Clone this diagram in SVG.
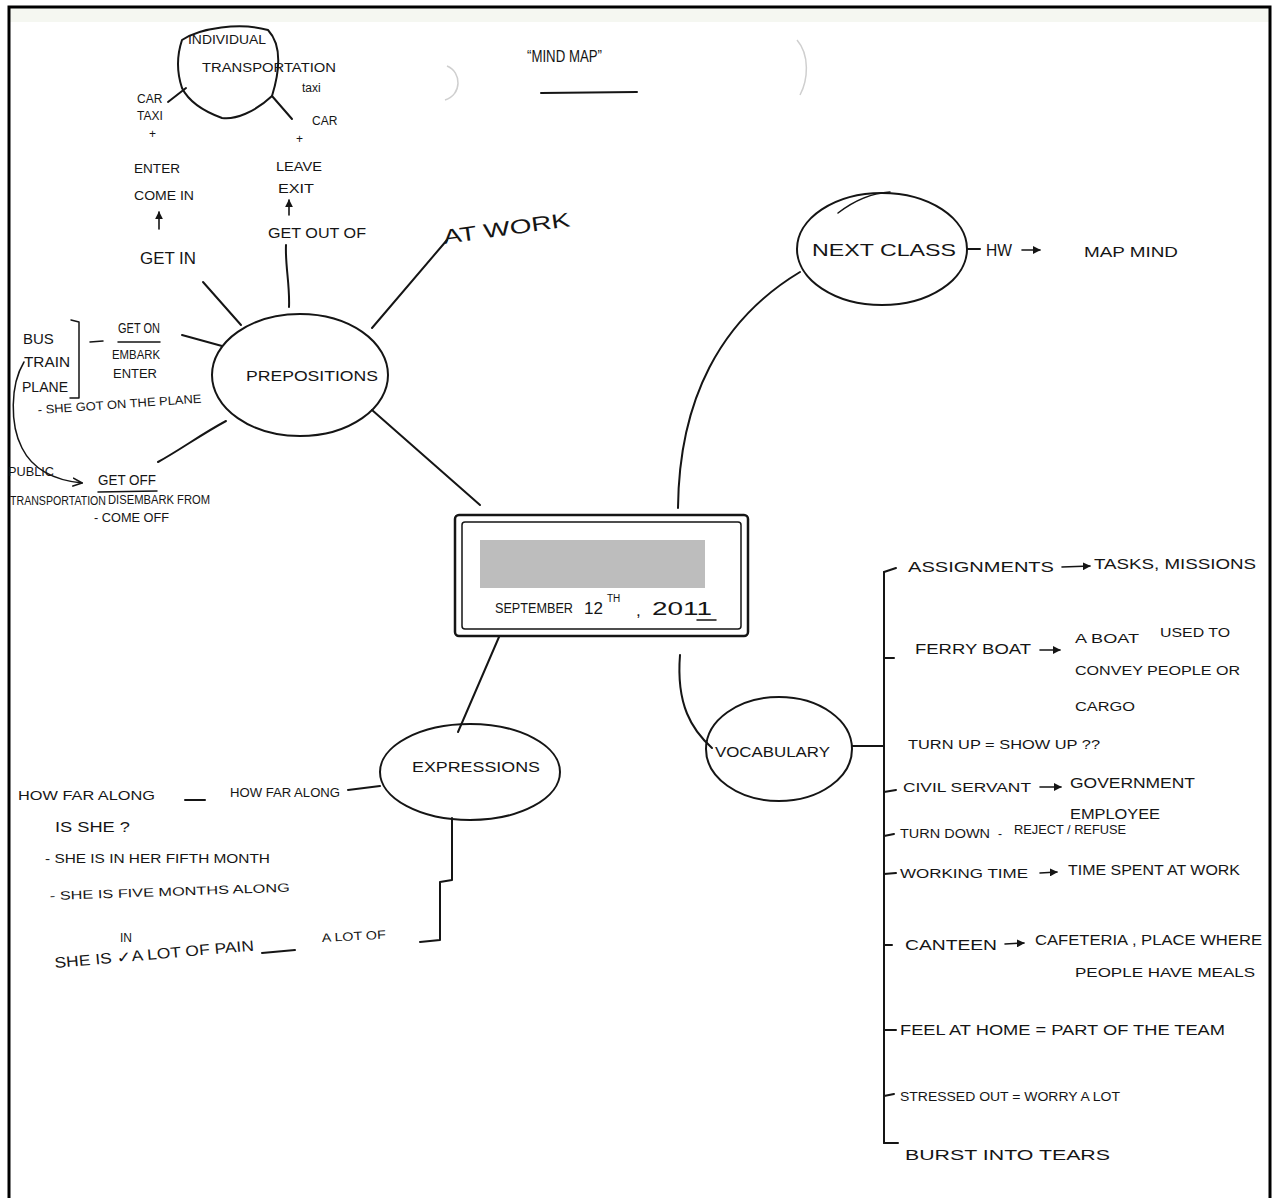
<svg xmlns="http://www.w3.org/2000/svg" width="1277" height="1198" viewBox="0 0 1277 1198">
<defs>
<style>
.t{font-family:"Liberation Sans",Arial,sans-serif;fill:#151515;font-size:15px}
.s{font-size:12px}
.m{font-size:17px}
.b{font-size:20px}
.x{font-size:10px}
.d{font-size:19px}
.sp{font-size:14px}
.l{fill:none;stroke:#151515;stroke-width:2;stroke-linecap:round;stroke-linejoin:round}
.th{stroke-width:1.5}
.ar{fill:none;stroke:#151515;stroke-width:1.6;stroke-linecap:round}
.faint{fill:none;stroke:#cfcfcf;stroke-width:1.5}
</style>
<marker id="ah" viewBox="0 0 10 10" refX="9" refY="5" markerWidth="7" markerHeight="7" orient="auto">
<path d="M0,1 L9,5 L0,9" fill="none" stroke="#151515" stroke-width="1.6"/>
</marker>
<marker id="af" viewBox="0 0 10 10" refX="9" refY="5" markerWidth="5" markerHeight="5" orient="auto">
<path d="M0,0 L10,5 L0,10 Z" fill="#151515"/>
</marker>
</defs>
<rect width="1277" height="1198" fill="#fff"/>
<rect x="10" y="8" width="1259" height="14" fill="#f5f7f1"/>
<path d="M9,1198 L9,7 L1270,7 L1270,1198" fill="none" stroke="#000" stroke-width="3"/>
<path class="faint" d="M447,66 C462,72 462,95 445,100"/>
<path class="faint" d="M797,40 C810,55 808,80 800,95"/>

<g id="title">
<text class="t m" x="527" y="62" textLength="75" lengthAdjust="spacingAndGlyphs">“MIND MAP”</text>
<path class="l" d="M541,93 L637,92"/>
</g>

<g id="connectors">
<path class="l" d="M372,410 L480,505"/>
<path class="l" d="M678,508 C679,400 720,320 800,272"/>
<path class="l" d="M680,655 C676,705 692,730 712,748"/>
<path class="l" d="M502,630 L458,732"/>
<path class="l" d="M372,328 L447,240"/>
<path class="l" d="M289,307 C290,285 285,265 286,245"/>
<path class="l" d="M241,325 L203,282"/>
<path class="l" d="M222,346 L182,335"/>
<path class="l" d="M226,421 C200,435 180,450 158,462"/>
<path class="l" d="M186,88 L168,102"/>
<path class="l" d="M272,96 L292,119"/>
<path class="l" d="M967,249 L980,249"/>
<path class="l" d="M852,746 L884,746"/>
<path class="l" d="M884,572 L884,1143"/>
<path class="l" d="M884,572 L896,568"/>
<path class="l" d="M884,658 L894,658"/>
<path class="l" d="M884,792 L896,790"/>
<path class="l" d="M884,836 L894,834"/>
<path class="l" d="M884,874 L896,873"/>
<path class="l" d="M884,945 L892,945"/>
<path class="l" d="M884,1030 L896,1030"/>
<path class="l" d="M884,1096 L894,1094"/>
<path class="l" d="M884,1143 L898,1143"/>
<path class="l" d="M380,786 L348,790"/>
<path class="l" d="M452,818 L452,880 L440,882 L440,940 L420,942"/>
<path class="l th" d="M24,362 C10,385 10,425 22,448 C32,468 52,480 82,483" marker-end="url(#ah)"/>
</g>

<g id="center-node">
<rect x="455" y="515" width="293" height="121" rx="4" fill="#fff" stroke="#151515" stroke-width="2.5"/>
<rect x="462" y="522" width="279" height="107" rx="3" fill="none" stroke="#151515" stroke-width="1.5"/>
<rect x="480" y="540" width="225" height="48" fill="#bdbdbd"/>
<text class="t sp" x="495" y="613" textLength="78" lengthAdjust="spacingAndGlyphs">SEPTEMBER</text>
<text class="t m" x="584" y="614">12</text>
<text class="t x" x="607" y="602">TH</text>
<text class="t m" x="636" y="616">,</text>
<text class="t d" x="652" y="615" textLength="60" lengthAdjust="spacingAndGlyphs">2011</text>
<path class="l th" d="M697,620 L716,620"/>
</g>

<g id="prepositions">
<ellipse cx="300" cy="375" rx="88" ry="61" fill="none" stroke="#151515" stroke-width="2"/>
<text class="t" x="246" y="381" textLength="132" lengthAdjust="spacingAndGlyphs">PREPOSITIONS</text>
</g>

<g id="individual-transportation">
<path class="l" d="M182,40 C200,28 240,22 268,30 C282,45 280,70 272,96 C255,112 235,120 222,118 C200,110 188,100 182,88 C176,70 178,52 182,40 Z"/>
<text class="t s" x="188" y="44" textLength="78" lengthAdjust="spacingAndGlyphs">INDIVIDUAL</text>
<text class="t s" x="202" y="72" textLength="134" lengthAdjust="spacingAndGlyphs">TRANSPORTATION</text>
</g>

<g id="get-in">
<text class="t s" x="137" y="103">CAR</text>
<text class="t s" x="137" y="120">TAXI</text>
<text class="t s" x="149" y="138">+</text>
<text class="t s" x="134" y="173" textLength="46" lengthAdjust="spacingAndGlyphs">ENTER</text>
<text class="t s" x="134" y="200" textLength="60" lengthAdjust="spacingAndGlyphs">COME IN</text>
<path class="ar" d="M159,229 L159,212" marker-end="url(#af)"/>
<text class="t m" x="140" y="264" textLength="56" lengthAdjust="spacingAndGlyphs">GET IN</text>
</g>

<g id="get-out-of">
<text class="t s" x="302" y="92">taxi</text>
<text class="t s" x="312" y="125">CAR</text>
<text class="t s" x="296" y="143">+</text>
<text class="t s" x="276" y="171" textLength="46" lengthAdjust="spacingAndGlyphs">LEAVE</text>
<text class="t s" x="278" y="193" textLength="36" lengthAdjust="spacingAndGlyphs">EXIT</text>
<path class="ar" d="M289,215 L289,200" marker-end="url(#af)"/>
<text class="t" x="268" y="238" textLength="98" lengthAdjust="spacingAndGlyphs">GET OUT OF</text>
</g>

<g id="at-work">
<text class="t b" x="444" y="244" transform="rotate(-8 444 244)" textLength="128" lengthAdjust="spacingAndGlyphs">AT WORK</text>
</g>

<g id="get-on">
<text class="t" x="23" y="344">BUS</text>
<text class="t" x="24" y="367" textLength="46" lengthAdjust="spacingAndGlyphs">TRAIN</text>
<text class="t" x="22" y="392" textLength="46" lengthAdjust="spacingAndGlyphs">PLANE</text>
<path class="l th" d="M71,320 L79,322 L79,398 L70,398"/>
<path class="l th" d="M90,342 L103,341"/>
<text class="t" x="118" y="333" textLength="42" lengthAdjust="spacingAndGlyphs">GET ON</text>
<path class="l th" d="M118,342 L160,342"/>
<text class="t s" x="112" y="359" textLength="48" lengthAdjust="spacingAndGlyphs">EMBARK</text>
<text class="t s" x="113" y="378" textLength="44" lengthAdjust="spacingAndGlyphs">ENTER</text>
<text class="t s" x="38" y="414" transform="rotate(-4 38 414)" textLength="164" lengthAdjust="spacingAndGlyphs">- SHE GOT ON THE PLANE</text>
</g>

<g id="get-off">
<text class="t s" x="8" y="476" textLength="46" lengthAdjust="spacingAndGlyphs">PUBLIC</text>
<text class="t" x="98" y="485" textLength="58" lengthAdjust="spacingAndGlyphs">GET OFF</text>
<path class="l th" d="M98,492 L157,491"/>
<text class="t s" x="10" y="505" textLength="96" lengthAdjust="spacingAndGlyphs">TRANSPORTATION</text>
<text class="t s" x="108" y="504" textLength="102" lengthAdjust="spacingAndGlyphs">DISEMBARK FROM</text>
<text class="t s" x="94" y="522" textLength="75" lengthAdjust="spacingAndGlyphs">- COME OFF</text>
</g>

<g id="next-class">
<ellipse cx="882" cy="249" rx="85" ry="56" fill="none" stroke="#151515" stroke-width="2"/>
<path class="l th" d="M838,213 C855,200 872,193 890,192"/>
<text class="t m" x="812" y="256" textLength="144" lengthAdjust="spacingAndGlyphs">NEXT CLASS</text>
</g>
<g id="homework">
<text class="t m" x="986" y="256" textLength="26" lengthAdjust="spacingAndGlyphs">HW</text>
<path class="ar" d="M1022,250 L1040,250" marker-end="url(#af)"/>
<text class="t" x="1084" y="257" textLength="94" lengthAdjust="spacingAndGlyphs">MAP MIND</text>
</g>

<g id="vocabulary">
<ellipse cx="779" cy="749" rx="73" ry="52" fill="none" stroke="#151515" stroke-width="2"/>
<text class="t" x="715" y="757" textLength="115" lengthAdjust="spacingAndGlyphs">VOCABULARY</text>
</g>
<g id="vocab-items">
<text class="t" x="908" y="572" textLength="146" lengthAdjust="spacingAndGlyphs">ASSIGNMENTS</text>
<path class="ar" d="M1062,567 L1090,566" marker-end="url(#af)"/>
<text class="t" x="1094" y="569" textLength="162" lengthAdjust="spacingAndGlyphs">TASKS, MISSIONS</text>
<text class="t" x="915" y="654" textLength="116" lengthAdjust="spacingAndGlyphs">FERRY BOAT</text>
<path class="ar" d="M1040,650 L1060,650" marker-end="url(#af)"/>
<text class="t s" x="1075" y="643" textLength="64" lengthAdjust="spacingAndGlyphs">A BOAT</text>
<text class="t s" x="1160" y="637" textLength="70" lengthAdjust="spacingAndGlyphs">USED TO</text>
<text class="t s" x="1075" y="675" textLength="165" lengthAdjust="spacingAndGlyphs">CONVEY PEOPLE OR</text>
<text class="t s" x="1075" y="711" textLength="60" lengthAdjust="spacingAndGlyphs">CARGO</text>
<text class="t s" x="908" y="749" textLength="192" lengthAdjust="spacingAndGlyphs">TURN UP = SHOW UP ??</text>
<text class="t s" x="903" y="792" textLength="128" lengthAdjust="spacingAndGlyphs">CIVIL SERVANT</text>
<path class="ar" d="M1040,787 L1061,787" marker-end="url(#af)"/>
<text class="t" x="1070" y="788" textLength="125" lengthAdjust="spacingAndGlyphs">GOVERNMENT</text>
<text class="t" x="1070" y="819" textLength="90" lengthAdjust="spacingAndGlyphs">EMPLOYEE</text>
<text class="t s" x="900" y="838" textLength="90" lengthAdjust="spacingAndGlyphs">TURN DOWN</text>
<text class="t s" x="998" y="838">-</text>
<text class="t s" x="1014" y="834" textLength="112" lengthAdjust="spacingAndGlyphs">REJECT / REFUSE</text>
<text class="t s" x="900" y="878" textLength="128" lengthAdjust="spacingAndGlyphs">WORKING TIME</text>
<path class="ar" d="M1040,873 L1057,872" marker-end="url(#af)"/>
<text class="t" x="1068" y="875" textLength="172" lengthAdjust="spacingAndGlyphs">TIME SPENT AT WORK</text>
<text class="t" x="905" y="950" textLength="92" lengthAdjust="spacingAndGlyphs">CANTEEN</text>
<path class="ar" d="M1005,944 L1024,943" marker-end="url(#af)"/>
<text class="t" x="1035" y="945" textLength="227" lengthAdjust="spacingAndGlyphs">CAFETERIA , PLACE WHERE</text>
<text class="t s" x="1075" y="977" textLength="180" lengthAdjust="spacingAndGlyphs">PEOPLE HAVE MEALS</text>
<text class="t" x="900" y="1035" textLength="325" lengthAdjust="spacingAndGlyphs">FEEL AT HOME = PART OF THE TEAM</text>
<text class="t s" x="900" y="1101" textLength="220" lengthAdjust="spacingAndGlyphs">STRESSED OUT = WORRY A LOT</text>
<text class="t" x="905" y="1160" textLength="205" lengthAdjust="spacingAndGlyphs">BURST INTO TEARS</text>
</g>

<g id="expressions">
<ellipse cx="470" cy="772" rx="90" ry="48" fill="none" stroke="#151515" stroke-width="2"/>
<text class="t" x="412" y="772" textLength="128" lengthAdjust="spacingAndGlyphs">EXPRESSIONS</text>
</g>
<g id="expression-items">
<text class="t s" x="18" y="800" textLength="137" lengthAdjust="spacingAndGlyphs">HOW FAR ALONG</text>
<path class="l" d="M185,800 L205,800"/>
<text class="t s" x="230" y="797" textLength="110" lengthAdjust="spacingAndGlyphs">HOW FAR ALONG</text>
<text class="t" x="55" y="832" textLength="75" lengthAdjust="spacingAndGlyphs">IS SHE ?</text>
<text class="t s" x="45" y="863" textLength="225" lengthAdjust="spacingAndGlyphs">- SHE IS IN HER FIFTH MONTH</text>
<text class="t s" x="50" y="900" transform="rotate(-2 50 900)" textLength="240" lengthAdjust="spacingAndGlyphs">- SHE IS FIVE MONTHS ALONG</text>
<text class="t s" x="120" y="942">IN</text>
<text class="t" x="55" y="968" transform="rotate(-5 55 968)" textLength="200" lengthAdjust="spacingAndGlyphs">SHE IS ✓A LOT OF PAIN</text>
<path class="l" d="M262,953 L295,950"/>
<text class="t s" x="322" y="942" transform="rotate(-3 322 942)" textLength="64" lengthAdjust="spacingAndGlyphs">A LOT OF</text>
</g>
</svg>
